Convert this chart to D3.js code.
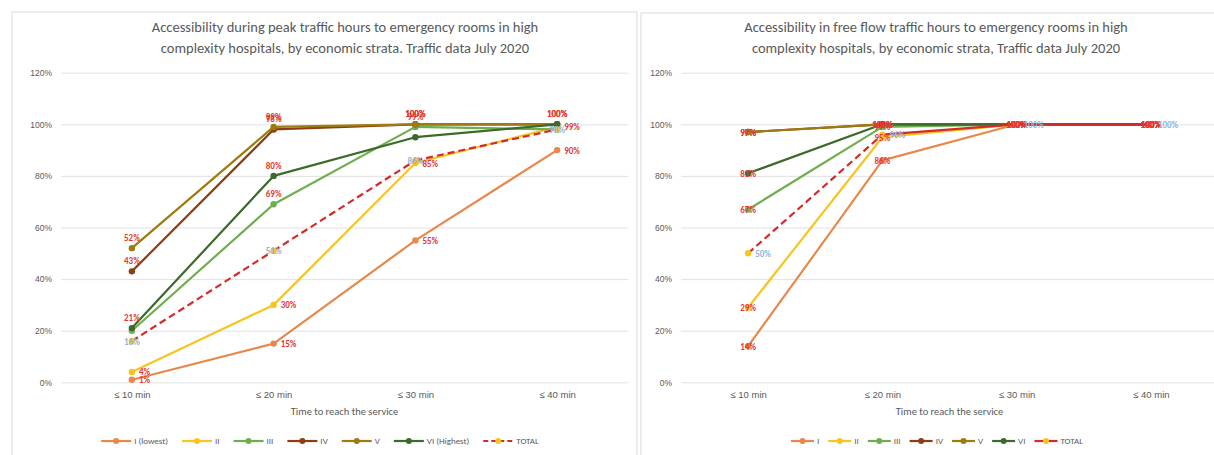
<!DOCTYPE html>
<html>
<head>
<meta charset="utf-8">
<script src="https://cdn.jsdelivr.net/npm/d3@7"></script>
<style>
  html, body { margin: 0; padding: 0; background: #fff; }
  svg { display: block; font-family: Calibri, Carlito, Lato, sans-serif; }
</style>
</head>
<body>
<svg id="chart" width="1214" height="455"></svg>
<script>
// ---- data ----
const categories = ['≤ 10 min', '≤ 20 min', '≤ 30 min', '≤ 40 min']
const yTicks = [0, 0.2, 0.4, 0.6, 0.8, 1.0, 1.2]

const peakNames = ['I (lowest)', 'II', 'III', 'IV', 'V', 'VI (Highest)', 'TOTAL']
const peakI = [0.01, 0.15, 0.55, 0.90]
const peakII = [0.04, 0.30, 0.85, 0.99]
const peakIII = [0.20, 0.69, 0.99, 0.98]
const peakIV = [0.43, 0.98, 1.00, 1.00]
const peakV = [0.52, 0.99, 1.00, 1.00]
const peakVI = [0.21, 0.80, 0.95, 1.00]
const peakTotal = [0.16, 0.51, 0.86, 0.98]

const freeNames = ['I', 'II', 'III', 'IV', 'V', 'VI', 'TOTAL']
const freeI = [0.14, 0.86, 1.00, 1.00]
const freeII = [0.29, 0.95, 1.00, 1.00]
const freeIII = [0.67, 0.99, 1.00, 1.00]
const freeIV = [0.97, 1.00, 1.00, 1.00]
const freeV = [0.97, 1.00, 1.00, 1.00]
const freeVI = [0.81, 1.00, 1.00, 1.00]
const freeTotal = [0.50, 0.96, 1.00, 1.00]

// ---- styles ----
const seriesColors = ['#E8884C', '#F7C520', '#6FAE4E', '#8A3F12', '#9E7B0E', '#3C6A2A', '#D42A2A']
const totalMarker = '#F7C520'
const labelRed = '#E33A33'
const labelBlue = '#8FB5DD'
const gridColor = '#D9D9D9'
const textGray = '#595959'

const svg = d3.select('#chart')

function drawPanel(cfg) {
  const g = svg.append('g')

  // Panel frame
  g.append('rect')
    .attr('x', cfg.frame[0]).attr('y', cfg.frame[1])
    .attr('width', cfg.frame[2]).attr('height', cfg.frame[3])
    .attr('fill', '#fff').attr('stroke', gridColor).attr('stroke-width', 1)

  const x = d3.scalePoint().domain(categories).range(cfg.xRange).padding(0.5)
  const y = d3.scaleLinear().domain([0, 1.2]).range([382.3, 72.7])

  // Title
  const title = g.append('text')
    .attr('text-anchor', 'middle')
    .attr('fill', textGray)
    .style('font-size', '14.5px')
  cfg.title.forEach((line, i) => {
    title.append('tspan').attr('x', cfg.titleX).attr('y', 32 + i * 21).text(line)
  })

  // Grid + y labels
  const yAxis = d3.axisLeft(y).tickValues(yTicks).tickFormat(d3.format('.0%'))
    .tickSize(-(cfg.xRange[1] - cfg.xRange[0])).tickPadding(9)
  const ya = g.append('g').attr('transform', `translate(${cfg.xRange[0]},0)`).call(yAxis)
  ya.select('.domain').remove()
  ya.selectAll('line').attr('stroke', gridColor).attr('stroke-width', 0.8)
  ya.selectAll('text').attr('fill', textGray).style('font-size', '8.5px').style('font-family', 'inherit')

  // x labels
  const xAxis = d3.axisBottom(x).tickSize(0).tickPadding(9)
  const xa = g.append('g').attr('transform', `translate(0,${y(0)})`).call(xAxis)
  xa.select('.domain').remove()
  xa.selectAll('text').attr('fill', textGray).style('font-size', '9.5px').style('font-family', 'inherit')

  g.append('text')
    .attr('x', (cfg.xRange[0] + cfg.xRange[1]) / 2).attr('y', 415)
    .attr('text-anchor', 'middle').attr('fill', textGray)
    .style('font-size', '10.5px')
    .text('Time to reach the service')

  const plot = g.append('g')
  const line = d3.line().x(d => x(d.cat)).y(d => y(d.v))

  cfg.series.forEach((vals, si) => {
    const isTotal = si === cfg.series.length - 1
    const pts = vals.map((v, i) => ({ cat: categories[i], v }))
    for (let i = 0; i < pts.length - 1; i++) {
      const dashed = isTotal && cfg.totalDash[i]
      plot.append('path')
        .attr('d', line([pts[i], pts[i + 1]]))
        .attr('fill', 'none')
        .attr('stroke', seriesColors[si])
        .attr('stroke-width', 2.2)
        .attr('stroke-linecap', dashed ? 'butt' : 'round')
        .attr('stroke-dasharray', dashed ? '7,4' : null)
    }
    plot.selectAll(null).data(pts).join('circle')
      .attr('cx', d => x(d.cat)).attr('cy', d => y(d.v)).attr('r', 3.2)
      .attr('fill', isTotal ? totalMarker : seriesColors[si])
  })

  // Data labels on top
  const labels = g.append('g').style('font-size', '9px').style('font-weight', 'bold')
  cfg.series.forEach((vals, si) => {
    const pos = cfg.labelPos[si]
    const isTotal = si === cfg.series.length - 1
    vals.forEach((v, i) => {
      if (cfg.hidden.some(h => h[0] === si && h[1] === i)) return
      const px = x(categories[i]), py = y(v)
      const t = labels.append('text')
        .attr('fill', isTotal ? labelBlue : labelRed)
        .text(d3.format('.0%')(v))
      if (pos === 'above') t.attr('x', px).attr('y', py - 7).attr('text-anchor', 'middle')
      else if (pos === 'right') t.attr('x', px + 7).attr('y', py + 3.5).attr('text-anchor', 'start')
      else t.attr('x', px).attr('y', py + 3.5).attr('text-anchor', 'middle')
    })
  })

  // Legend
  const leg = g.append('g')
  let cx = 0
  cfg.names.forEach((name, si) => {
    const isTotal = si === cfg.names.length - 1
    const it = leg.append('g').attr('transform', `translate(${cx},0)`)
    it.append('line')
      .attr('x1', 0).attr('x2', cfg.legLine).attr('y1', 0).attr('y2', 0)
      .attr('stroke', seriesColors[si]).attr('stroke-width', 2.2)
      .attr('stroke-dasharray', isTotal && cfg.legendDash ? '5,3' : null)
    it.append('circle').attr('cx', cfg.legLine / 2).attr('cy', 0).attr('r', 3)
      .attr('fill', isTotal ? totalMarker : seriesColors[si])
    const tx = it.append('text').attr('x', cfg.legLine + 3).attr('y', 3)
      .attr('fill', textGray).style('font-size', '9px').text(name)
    cx += cfg.legLine + 3 + tx.node().getComputedTextLength() + cfg.legGap
  })
  const legWidth = cx - cfg.legGap
  leg.attr('transform', `translate(${cfg.legendX - legWidth / 2},441)`)
}

drawPanel({
  frame: [12, 12, 625, 460],
  xRange: [61, 628],
  titleX: 345,
  title: ['Accessibility during peak traffic hours to emergency rooms in high',
          'complexity hospitals, by economic strata. Traffic data July 2020'],
  names: peakNames,
  series: [peakI, peakII, peakIII, peakIV, peakV, peakVI, peakTotal],
  totalDash: [true, true, true],
  legendDash: true,
  labelPos: ['right', 'right', 'above', 'above', 'above', 'above', 'center'],
  hidden: [[2, 0], [2, 3], [5, 2], [5, 3]],
  legendX: 320,
  legLine: 30,
  legGap: 14
})

drawPanel({
  frame: [641, 13, 600, 460],
  xRange: [681, 1218],
  titleX: 936,
  title: ['Accessibility in free flow traffic hours to emergency rooms in high',
          'complexity hospitals, by economic strata, Traffic data July 2020'],
  names: freeNames,
  series: [freeI, freeII, freeIII, freeIV, freeV, freeVI, freeTotal],
  totalDash: [true, false, false],
  legendDash: false,
  labelPos: ['center', 'center', 'center', 'center', 'center', 'center', 'right'],
  hidden: [],
  legendX: 937,
  legLine: 23,
  legGap: 9
})
</script>
</body>
</html>
